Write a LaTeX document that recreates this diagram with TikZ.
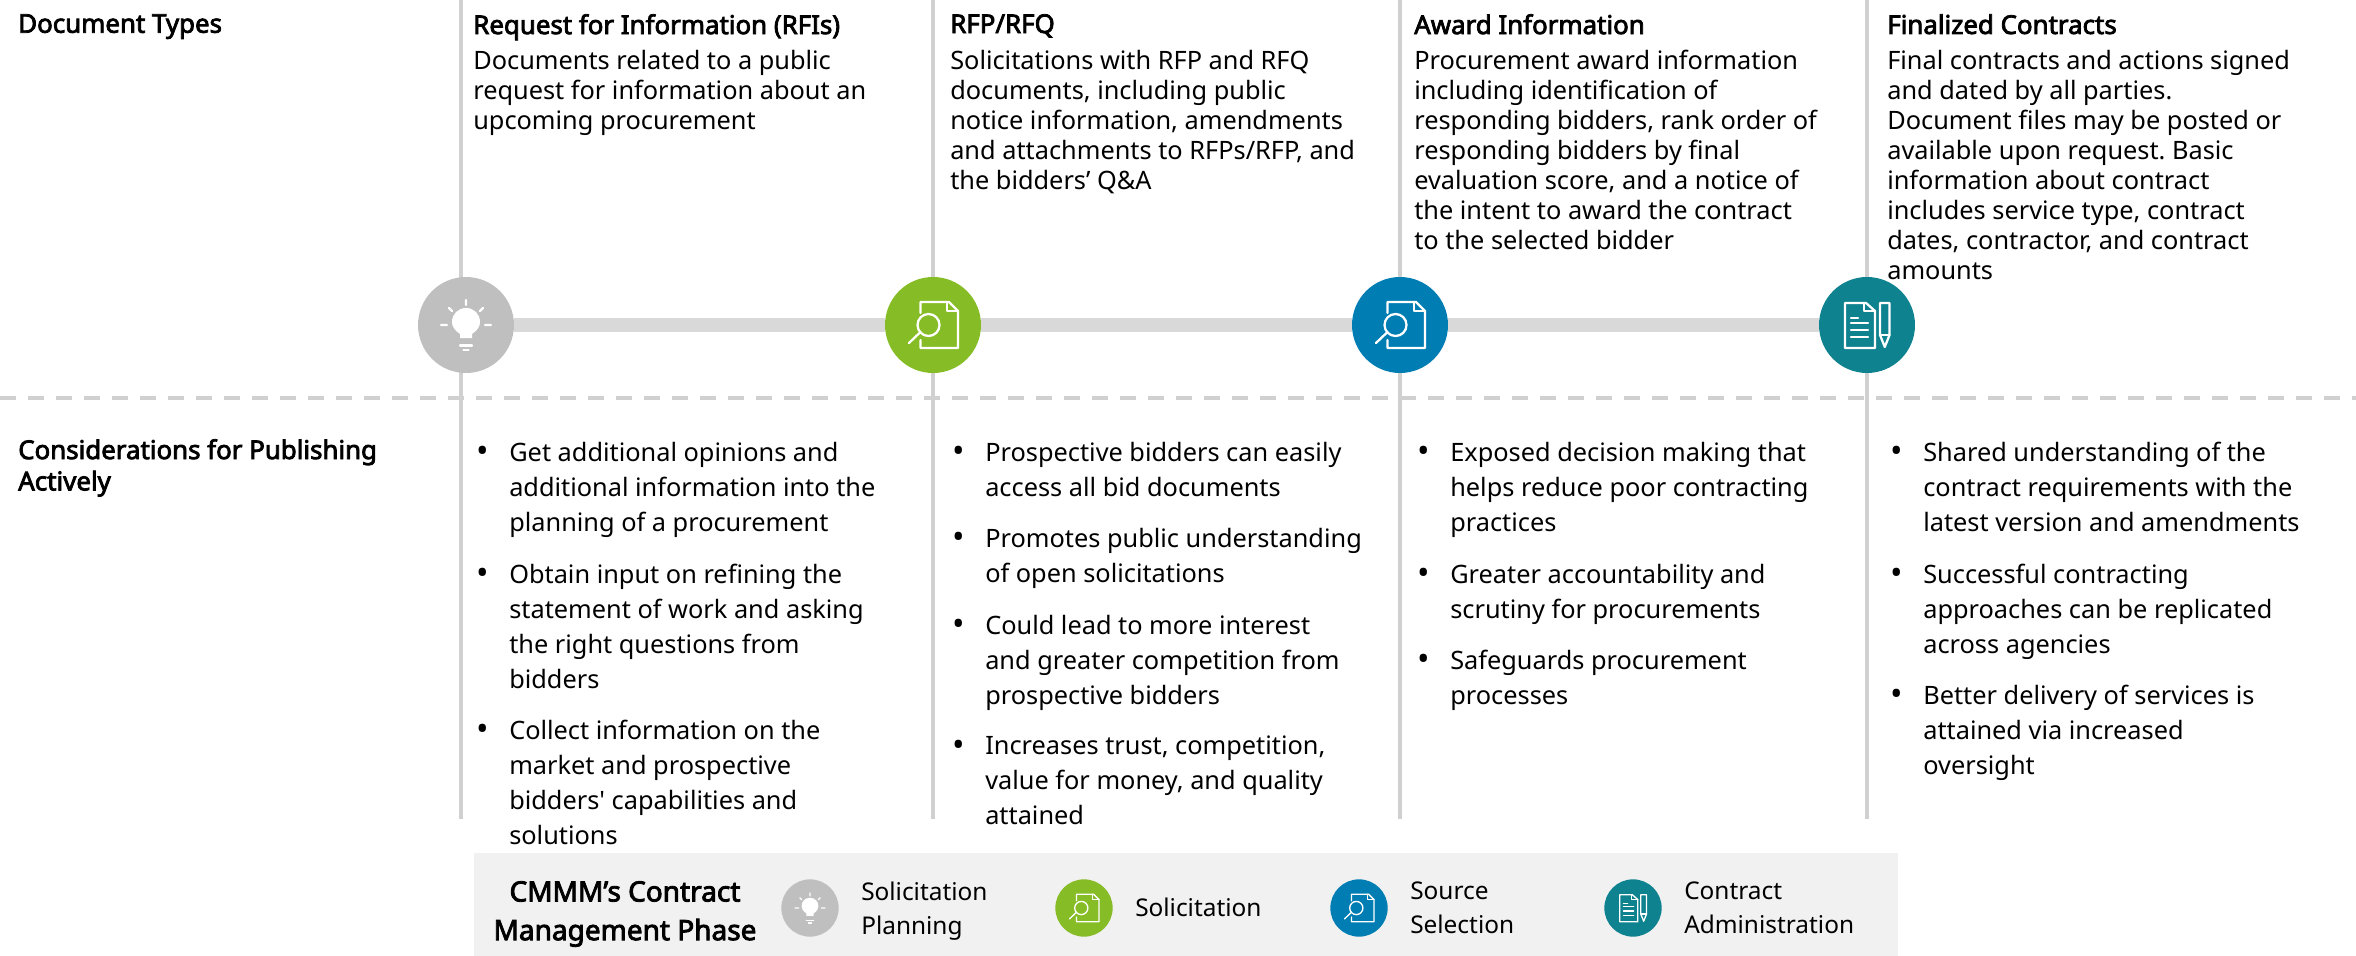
\documentclass[tikz,border=0pt]{standalone}
\usepackage{fontspec}
\setmainfont{Noto Sans}[BoldFont={Noto Sans},BoldFeatures={FakeBold=3}]
\usetikzlibrary{positioning}
\definecolor{rule_grey}{RGB}{208, 208, 208}
\definecolor{bar_grey}{RGB}{217, 217, 217}
\definecolor{band_grey}{RGB}{241, 241, 241}
\definecolor{plan_grey}{RGB}{191, 191, 191}
\definecolor{sol_green}{RGB}{134, 188, 37}
\definecolor{src_blue}{RGB}{0, 125, 179}
\definecolor{adm_teal}{RGB}{15, 130, 143}
\frenchspacing
\newcommand{\bul}{\llap{\raisebox{-1pt}[0pt][0pt]{\fontsize{25}{25}\selectfont\textbullet}\hspace{15pt}}}

\tikzset{
    % icons, drawn round the centre of their circle
    bulb/.pic={
        \draw[icon] (0,-25) -- (0,-20) (-25,0) -- (-19,0) (25,0) -- (19,0)
            (-17,-17) -- (-14,-14) (17,-17) -- (14,-14);
        \fill[white] (-6,13) -- (6,13) -- (6,9) .. controls (12,5) and (14,1) .. (14,-3)
            .. controls (14,-11) and (8,-17) .. (0,-17)
            .. controls (-8,-17) and (-14,-11) .. (-14,-3)
            .. controls (-14,1) and (-12,5) .. (-6,9) -- cycle;
        \draw[icon] (-6,20.5) -- (6,20.5) (-2.5,25) -- (2.5,25);
    },
    docsearch/.pic={
        \draw[icon] (-12.5,-12) |- (16,-23) -- (25,-14) |- (-12.5,23) -- (-12.5,15);
        \draw[icon] (14,-23) |- (25,-14);
        \draw[icon] (-4.5,0) circle (11);
        \draw[icon] (-12.5,7) -- (-24,18);
    },
    docpen/.pic={
        \draw[icon] (-22,-22) -- (-1,-22) -- (8,-14) |- (-22,23) -- cycle;
        \draw[icon] (-3,-22) |- (8,-14);
        \draw[icon] (-16,-7) -- (-9,-7) (-16,-2) -- (1,-2) (-16,5) -- (1,5) (-16,12) -- (1,12);
        \draw[icon] (13,-22) -- (22.5,-22) -- (22.5,10) -- (17.75,22) -- (13,10) -- cycle;
        \draw[icon] (13,10) -- (22.5,10);
    }
}

\begin{document}
\begin{tikzpicture}[
    x=0.75pt, y=-0.75pt,
    % Node styles
    phase/.style={
        circle,
        fill=#1,
        inner sep=0pt,
        minimum size=72pt
    },
    keydot/.style={
        circle,
        fill=#1,
        inner sep=0pt,
        minimum size=43pt
    },
    icon/.style={
        white,
        line width=1.7pt,
        line cap=round,
        line join=round
    },
    head/.style={
        anchor=north west,
        inner sep=0pt,
        align=left,
        font=\fontsize{19.4}{23.5}\selectfont\bfseries
    },
    body/.style={
        anchor=north west,
        inner sep=0pt,
        align=left,
        font=\fontsize{19}{22.5}\selectfont
    },
    point/.style={
        anchor=north west,
        inner sep=0pt,
        align=left,
        font=\fontsize{19}{26.25}\selectfont
    },
    keytext/.style={
        anchor=north west,
        inner sep=0pt,
        align=left,
        font=\fontsize{18.3}{25}\selectfont
    },
    keytitle/.style={
        inner sep=0pt,
        align=center,
        font=\fontsize{21}{29}\selectfont\bfseries
    },
    bar/.style={
        bar_grey,
        line width=10.5pt
    },
    divider/.style={
        rule_grey,
        line width=2.5pt
    },
    split/.style={
        rule_grey,
        line width=3pt,
        dash pattern=on 12pt off 9pt
    }
]

\useasboundingbox (0,0) rectangle (2356,956);

% column rules and divider
\foreach \name/\xpos in {a/461, b/933, c/1400, d/1867} {
    \coordinate (top\name) at (\xpos,0);
    \coordinate (end\name) at (\xpos,819);
    \draw[divider] (top\name) -- (end\name);
}
\coordinate (splitl) at (0,398);
\coordinate (splitr) at (2356,398);
\draw[split] (splitl) -- (splitr);

% Position nodes
\node[phase=plan_grey] (plan) at (466,325) {};
\node[phase=sol_green] (sol) at (933,325) {};
\node[phase=src_blue] (src) at (1400,325) {};
\node[phase=adm_teal] (adm) at (1867,325) {};

% draw bar
\draw[bar] (plan) -- (sol);
\draw[bar] (sol) -- (src);
\draw[bar] (src) -- (adm);

\pic at (plan) {bulb};
\pic at (sol) {docsearch};
\pic at (src) {docsearch};
\pic at (adm) {docpen};

% row labels
\node[head] (types) at (18,14) {Document Types};
\node[head] (cons) at (18,439) {Considerations for Publishing\\Actively};

% document types
\node[head] (rfi) at (473,14) {Request for Information (RFIs)};
\node[body] (rfitext) at (473,50) {Documents related to a public\\request for information about an\\upcoming procurement};

\node[head] (rfp) at (950,14) {RFP/RFQ};
\node[body] (rfptext) at (950,50) {Solicitations with RFP and RFQ\\documents, including public\\notice information, amendments\\and attachments to RFPs/RFP, and\\the bidders’ Q\&A};

\node[head] (award) at (1414,14) {Award Information};
\node[body] (awardtext) at (1414,50) {Procurement award information\\including identification of\\responding bidders, rank order of\\responding bidders by final\\evaluation score, and a notice of\\the intent to award the contract\\to the selected bidder};

\node[head] (final) at (1887,14) {Finalized Contracts};
\node[body] (finaltext) at (1887,50) {Final contracts and actions signed\\and dated by all parties.\\Document files may be posted or\\available upon request. Basic\\information about contract\\includes service type, contract\\dates, contractor, and contract\\amounts};

% considerations
\node[point] (a1) at (509,442) {\bul Get additional opinions and\\additional information into the\\planning of a procurement};
\node[point] (a2) at (509,564) {\bul Obtain input on refining the\\statement of work and asking\\the right questions from\\bidders};
\node[point] (a3) at (509,720) {\bul Collect information on the\\market and prospective\\bidders\textquotesingle{} capabilities and\\solutions};

\node[point] (b1) at (985,442) {\bul Prospective bidders can easily\\access all bid documents};
\node[point] (b2) at (985,528) {\bul Promotes public understanding\\of open solicitations};
\node[point] (b3) at (985,615) {\bul Could lead to more interest\\and greater competition from\\prospective bidders};
\node[point] (b4) at (985,736) {\bul Increases trust, competition,\\value for money, and quality\\attained};

\node[point] (c1) at (1450,442) {\bul Exposed decision making that\\helps reduce poor contracting\\practices};
\node[point] (c2) at (1450,564) {\bul Greater accountability and\\scrutiny for procurements};
\node[point] (c3) at (1450,650) {\bul Safeguards procurement\\processes};

\node[point] (d1) at (1923,442) {\bul Shared understanding of the\\contract requirements with the\\latest version and amendments};
\node[point] (d2) at (1923,564) {\bul Successful contracting\\approaches can be replicated\\across agencies};
\node[point] (d3) at (1923,685) {\bul Better delivery of services is\\attained via increased\\oversight};

% legend
\fill[band_grey] (474,853) rectangle (1898,956);
\node[keytitle] (keyname) at (625,914) {CMMM’s Contract\\Management Phase};

\node[keydot=plan_grey] (k1) at (810,908) {};
\node[keydot=sol_green] (k2) at (1084,908) {};
\node[keydot=src_blue] (k3) at (1359,908) {};
\node[keydot=adm_teal] (k4) at (1633,908) {};

\pic[scale=0.6, icon/.append style={line width=1pt}] at (k1) {bulb};
\pic[scale=0.6, icon/.append style={line width=1pt}] at (k2) {docsearch};
\pic[scale=0.6, icon/.append style={line width=1pt}] at (k3) {docsearch};
\pic[scale=0.6, icon/.append style={line width=1pt}] at (k4) {docpen};

\node[keytext] (t1) at (861,882) {Solicitation\\Planning};
\node[keytext] (t2) at (1135,898) {Solicitation};
\node[keytext] (t3) at (1410,882) {Source\\Selection};
\node[keytext] (t4) at (1684,882) {Contract\\Administration};

\end{tikzpicture}
\end{document}
